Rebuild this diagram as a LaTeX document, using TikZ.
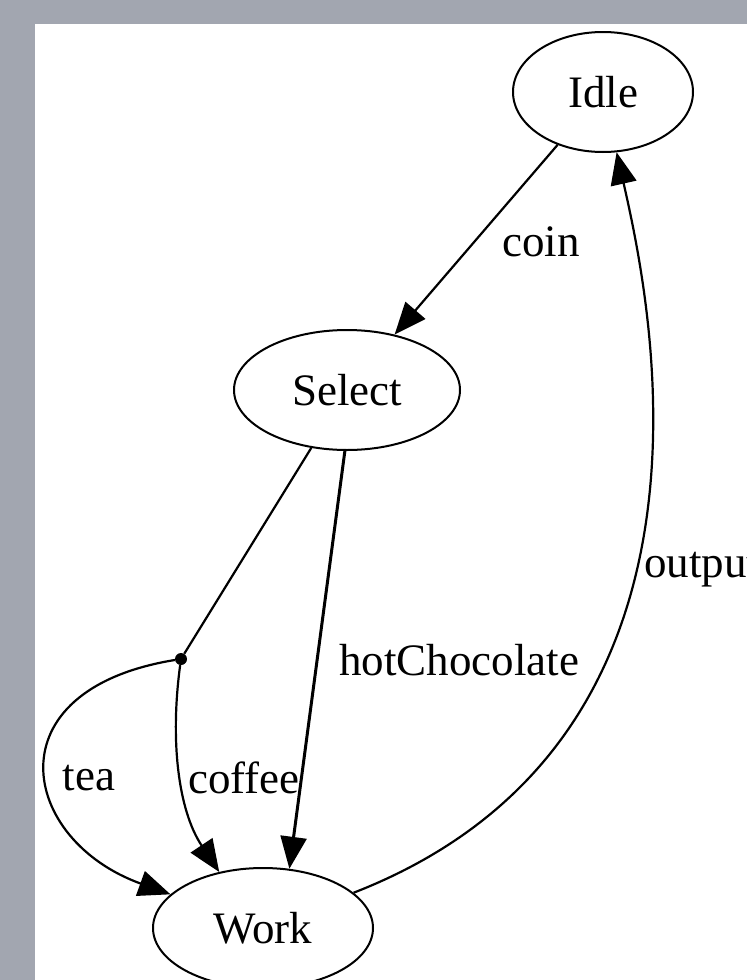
\documentclass[tikz,border=0pt]{standalone}
\usepackage{fontspec}
\setmainfont{Liberation Serif}
\usetikzlibrary{shapes.geometric,arrows.meta}
\definecolor{bggray}{HTML}{A2A6B0}
\tikzset{
  state/.style={draw=black, line width=2pt, ellipse, inner sep=0pt, font=\fontsize{45}{54}\selectfont},
  edge/.style={draw=black, line width=2.2pt, -{Triangle[length=32pt,width=26pt]}},
  plain/.style={draw=black, line width=2.2pt},
  lbl/.style={font=\fontsize{45}{54}\selectfont, inner sep=0pt}
}
\begin{document}
\begin{tikzpicture}[x=1pt,y=-1pt]
\useasboundingbox (0,0) rectangle (747,980);
\clip (0,0) rectangle (747,980);
\fill[bggray] (0,0) rectangle (747,980);
\fill[white] (35,24) rectangle (747,980);
\node[state, minimum width=180pt, minimum height=120pt] (idle) at (603,92) {Idle};
\node[state, minimum width=226pt, minimum height=120pt] (select) at (347,390) {Select};
\node[state, minimum width=220pt, minimum height=120pt] (work) at (263,928) {Work};
\node[circle, fill=black, inner sep=0pt, minimum size=12pt] (dot) at (181,659) {};
\draw[edge] (idle) -- (select);
\node[lbl] (lcoin) at (541,242) {coin};
\draw[plain] (select) -- (dot);
\draw[edge] (dot) .. controls (-10,690) and (20,840) .. (work.160);
\node[lbl] (ltea) at (89,778) {tea};
\draw[edge] (dot) .. controls (170,740) and (178,810) .. (work.128);
\node[lbl] (lcoffee) at (244,778) {coffee};
\draw[edge, line width=3pt] (select.268) -- (work.66);
\node[lbl] (lhot) at (459,660) {hotChocolate};
\draw[edge] (work) .. controls (746,740) and (650,300) .. (idle);
\node[lbl, anchor=west] (lout) at (644,570) {output};
\end{tikzpicture}
\end{document}
